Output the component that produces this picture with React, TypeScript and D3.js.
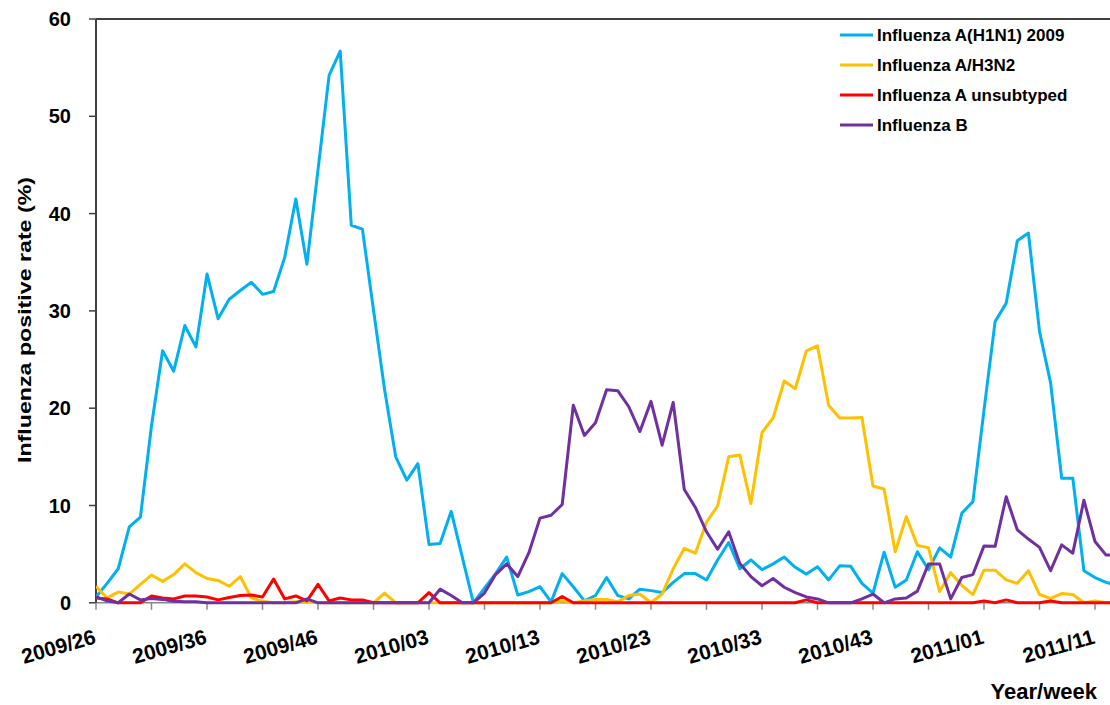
import React from "react";
import * as d3 from "d3";

// week categories 2009/26 .. 2011/14 (2009 has 53 ISO weeks)
const weeks: string[] = (() => {
  const out: string[] = [];
  for (let w = 26; w <= 53; w++) out.push(`2009/${String(w).padStart(2, "0")}`);
  for (let w = 1; w <= 52; w++) out.push(`2010/${String(w).padStart(2, "0")}`);
  for (let w = 1; w <= 13; w++) out.push(`2011/${String(w).padStart(2, "0")}`);
  return out;
})();

const tickLabels = ["2009/26", "2009/36", "2009/46", "2010/03", "2010/13", "2010/23", "2010/33", "2010/43", "2011/01", "2011/11"];
const yTicks = [0, 10, 20, 30, 40, 50, 60];

const h1n1 = [0.6, 2.0, 3.5, 7.8, 8.8, 18.2, 25.9, 23.8, 28.5, 26.3, 33.8, 29.2, 31.2, 32.1, 32.95, 31.7, 32.0, 35.5, 41.5, 34.8,
  44.5, 54.2, 56.7, 38.8, 38.4, 30.1, 21.9, 15.0, 12.6, 14.3, 6.0, 6.1, 9.4, 4.7, 0, 1.5, 3.0, 4.7, 0.8, 1.15,
  1.65, 0.1, 3.0, 1.65, 0.2, 0.75, 2.6, 0.75, 0.4, 1.4, 1.25, 1.05, 2.1, 3.0, 3.0, 2.35, 4.4, 6.2, 3.5, 4.4,
  3.4, 4.0, 4.7, 3.65, 2.95, 3.7, 2.35, 3.8, 3.75, 2.0, 1.0, 5.2, 1.6, 2.35, 5.25, 3.4, 5.65, 4.7, 9.2, 10.4,
  19.8, 28.9, 30.8, 37.2, 38.0, 27.9, 22.6, 12.8, 12.8, 3.3, 2.6, 2.1, 1.8];

const h3n2 = [1.7, 0.5, 1.1, 0.9, 1.9, 2.85, 2.2, 2.9, 4.0, 3.1, 2.5, 2.3, 1.7, 2.7, 0.5, 0.15, 0, 0, 0.1, 0.1,
  0, 0, 0, 0, 0, 0, 1.0, 0, 0, 0, 0, 0, 0, 0, 0, 0, 0, 0, 0, 0,
  0, 0, 0.2, 0, 0.2, 0.35, 0.35, 0.1, 0.75, 0.9, 0, 0.9, 3.5, 5.6, 5.1, 8.3, 9.95, 15.0, 15.2, 10.2,
  17.5, 19.0, 22.8, 22.0, 25.9, 26.4, 20.3, 19.0, 19.0, 19.05, 12.0, 11.7, 5.25, 8.85, 5.9, 5.65, 1.15, 3.1, 1.8, 0.85,
  3.35, 3.35, 2.35, 2.0, 3.3, 0.85, 0.45, 0.95, 0.85, 0, 0.2, 0, 0];

const unsubtyped = [0.5, 0.4, 0, 0, 0, 0.7, 0.5, 0.4, 0.7, 0.7, 0.6, 0.3, 0.55, 0.75, 0.8, 0.6, 2.45, 0.4, 0.7, 0.2,
  1.9, 0.2, 0.5, 0.3, 0.3, 0, 0, 0, 0, 0, 1.05, 0, 0, 0, 0, 0, 0, 0, 0, 0,
  0, 0, 0.65, 0, 0, 0, 0, 0, 0, 0, 0, 0, 0, 0, 0, 0, 0, 0, 0, 0,
  0, 0, 0, 0, 0.3, 0, 0, 0, 0, 0, 0, 0, 0, 0, 0, 0, 0, 0, 0, 0,
  0.2, 0, 0.3, 0, 0, 0, 0.2, 0, 0, 0, 0, 0, 0];

const fluB = [0.6, 0.2, 0, 0.9, 0.3, 0.45, 0.35, 0.15, 0.1, 0.1, 0, 0, 0, 0, 0, 0, 0, 0, 0, 0.4,
  0, 0, 0, 0, 0, 0, 0, 0, 0, 0, 0, 1.4, 0.75, 0, 0, 1.0, 2.9, 4.0, 2.7, 5.15,
  8.7, 9.0, 10.1, 20.3, 17.2, 18.5, 21.9, 21.8, 20.15, 17.6, 20.7, 16.2, 20.6, 11.65, 9.8, 7.3, 5.5, 7.3, 4.05, 2.7,
  1.75, 2.5, 1.6, 1.05, 0.6, 0.4, 0, 0, 0, 0.4, 0.9, 0, 0.4, 0.5, 1.2, 4.0, 4.0, 0.4, 2.6, 2.9,
  5.85, 5.8, 10.9, 7.5, 6.55, 5.7, 3.3, 5.95, 5.1, 10.55, 6.3, 4.9, 4.9];

const seriesNames = ["Influenza A(H1N1) 2009", "Influenza A/H3N2", "Influenza A unsubtyped", "Influenza B"];
const seriesValues = [h1n1, h3n2, unsubtyped, fluB];
const seriesColors = ["#00B0F0", "#FFC000", "#FF0000", "#7030A0"];

const W = 1110;
const H = 705;
const font = "Arial, 'Liberation Sans', sans-serif";

export default function App() {
  const x0 = 96;
  const step = 11.1;
  const x = d3.scalePoint<string>().domain(weeks).range([x0, x0 + step * (weeks.length - 1)]);
  const y = d3.scaleLinear().domain([0, 60]).range([602.8, 19]);

  const line = (vals: number[]) =>
    d3.line<number>()
      .x((_, i) => x(weeks[i]) as number)
      .y((v) => y(v))(vals) as string;

  const minorTicks = weeks.filter((_, i) => i % 5 === 0);

  return (
    <>
      <style>{`body{margin:0;}`}</style>
      <svg width={W} height={H} style={{ display: "block", fontFamily: font }}>
        <defs>
          <clipPath id="plot">
            <rect x={x0} y={0} width={W - x0} height={620} />
          </clipPath>
        </defs>
        {/* frame */}
        <line x1={x0} x2={W} y1={y(60)} y2={y(60)} stroke="#404040" strokeWidth={2} />
        <line x1={x0} x2={W} y1={y(0)} y2={y(0)} stroke="#888" strokeWidth={1.5} />
        <line x1={x0} x2={x0} y1={y(60)} y2={y(0)} stroke="#404040" strokeWidth={2} />
        {/* y ticks */}
        {yTicks.map((t) => (
          <g key={t}>
            <line x1={x0 - 7} x2={x0} y1={y(t)} y2={y(t)} stroke="#404040" strokeWidth={1.5} />
            <text x={71} y={y(t) + 7} textAnchor="end" fontSize={20} fontWeight="bold" fill="#000">
              {t}
            </text>
          </g>
        ))}
        {/* x ticks */}
        {minorTicks.map((w) => (
          <line key={w} x1={x(w)} x2={x(w)} y1={y(0)} y2={y(0) + 7} stroke="#888" strokeWidth={1.5} />
        ))}
        {tickLabels.map((w) => {
          const px = (x(w) as number) + 1;
          const py = 643;
          return (
            <text key={w} x={px} y={py} textAnchor="end" fontSize={21} fontWeight="bold" fill="#000"
              transform={`rotate(-16 ${px} ${py})`}>
              {w}
            </text>
          );
        })}
        {/* series */}
        <g clipPath="url(#plot)">
          {seriesValues.map((vals, k) => (
            <path key={k} d={line(vals)} fill="none" stroke={seriesColors[k]} strokeWidth={3}
              strokeLinejoin="round" />
          ))}
        </g>
        {/* legend */}
        {seriesNames.map((n, k) => (
          <g key={n}>
            <line x1={840} x2={873} y1={35 + k * 30} y2={35 + k * 30} stroke={seriesColors[k]} strokeWidth={3} />
            <text x={877} y={35 + k * 30 + 6} fontSize={17} fontWeight="bold" fill="#000">{n}</text>
          </g>
        ))}
        {/* axis titles */}
        <text transform="translate(31,320) rotate(-90)" textAnchor="middle" fontSize={18} fontWeight="bold"
          textLength={286} lengthAdjust="spacingAndGlyphs" fill="#000">
          Influenza positive rate (%)
        </text>
        <text x={1097} y={699} textAnchor="end" fontSize={22} fontWeight="bold" fill="#000">
          Year/week
        </text>
      </svg>
    </>
  );
}
